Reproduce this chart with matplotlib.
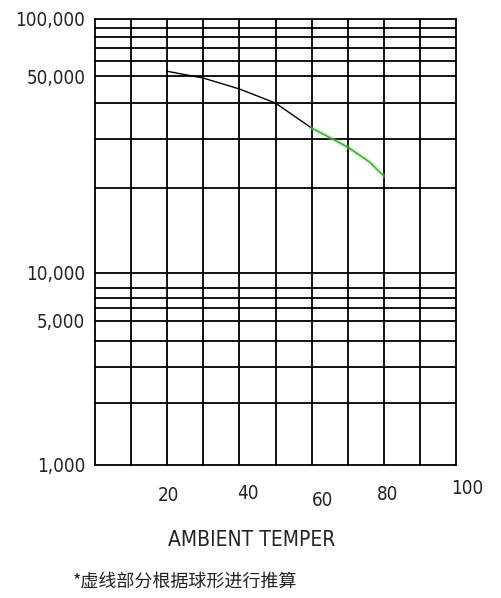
import numpy as np
import matplotlib
matplotlib.use("Agg")
import matplotlib.pyplot as plt
import matplotlib.transforms as mtransforms

# chart data
temp_black = [20, 30, 40, 50, 60]
life_black = [53000, 49200, 45000, 40100, 32700]
temp_green = [60, 70, 76, 80]
life_green = [32700, 28000, 24800, 22100]

x_ticks = [20, 40, 60, 80, 100]
x_tick_labels = ["20", "40", "60", "80", "100"]
y_ticks = [1000, 5000, 10000, 50000, 100000]
y_tick_labels = ["1,000", "5,000", "10,000", "50,000", "100,000"]
y_grid = [2000, 3000, 4000, 5000, 6000, 7000, 8000,
          10000, 20000, 30000, 40000, 50000, 60000, 70000, 80000, 90000]

# hand drawn log axis: piecewise log scale through the labelled values
anchor_logs = np.log10([1000, 5000, 10000, 50000, 100000])
anchor_pos = np.array([0.0, 0.323, 0.4305, 0.872, 1.0])


def forward(v):
    v = np.clip(np.asarray(v, dtype=float), 1e-3, None)
    return np.interp(np.log10(v), anchor_logs, anchor_pos)


def inverse(p):
    return 10 ** np.interp(p, anchor_pos, anchor_logs)


plt.rcParams['font.family'] = ['DejaVu Sans', 'Noto Sans CJK SC']
plt.rcParams['font.stretch'] = 'condensed'

fig = plt.figure(figsize=(5.01, 5.98), dpi=100)
ax = fig.add_axes([95 / 501, 133 / 598, 361 / 501, 446 / 598])
ax.set_yscale('function', functions=(forward, inverse))
ax.set_xlim(0, 100)
ax.set_ylim(1000, 100000)

lw = 1.3
for x in range(10, 100, 10):
    ax.axvline(x, color='black', lw=lw)
for y in y_grid:
    ax.axhline(y, color='black', lw=lw)
for s in ax.spines.values():
    s.set_linewidth(lw)

ax.plot(temp_black, life_black, color='black', lw=1.0)
ax.plot(temp_green, life_green, color='#66dd55', lw=3, alpha=0.35)
ax.plot(temp_green, life_green, color='#33aa33', lw=1.0)

ax.set_yticks(y_ticks)
ax.set_yticklabels(y_tick_labels, fontsize=13.5, color='#222222')
ax.yaxis.set_minor_locator(matplotlib.ticker.NullLocator())
ax.tick_params(axis='y', length=0, pad=7)

ax.set_xticks(x_ticks)
ax.set_xticklabels(x_tick_labels, fontsize=13.5, color='#222222')
ax.tick_params(axis='x', length=0, pad=15)
# the labels in the drawing sit a bit off their grid lines
offsets = [(1, 0), (9, 2), (11, -5), (4, 1), (11, 7)]
for lab, (dx, dy) in zip(ax.get_xticklabels(), offsets):
    lab.set_transform(lab.get_transform() +
                      mtransforms.ScaledTranslation(dx / 100, dy / 100,
                                                    fig.dpi_scale_trans))

fig.text(252 / 501, 1 - 540 / 598, "AMBIENT TEMPER", fontsize=15,
         ha='center', va='center', color='#222222')
fig.text(73 / 501, 1 - 582 / 598, "*虚线部分根据球形进行推算", fontsize=13,
         ha='left', va='center', color='#222222',
         family=['Noto Sans CJK SC', 'DejaVu Sans'])

fig.savefig("out.png", dpi=100)
